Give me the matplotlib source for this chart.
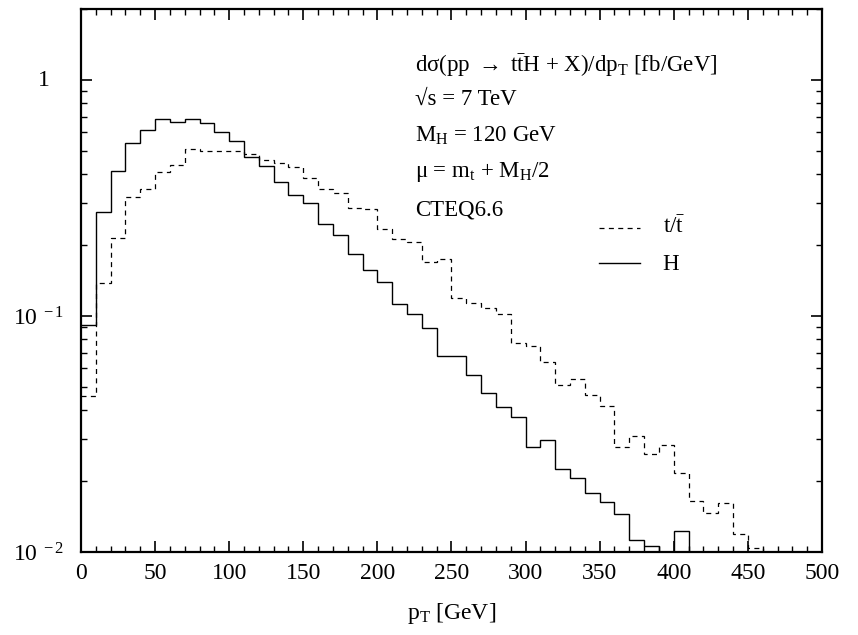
import numpy as np
import matplotlib
matplotlib.use("Agg")
import matplotlib.pyplot as plt
from matplotlib.ticker import FixedLocator, FixedFormatter, MultipleLocator, LogLocator, NullFormatter

plt.rcParams['font.family'] = ['Liberation Serif', 'DejaVu Serif']
plt.rcParams['mathtext.fontset'] = 'custom'
plt.rcParams['mathtext.rm'] = 'Liberation Serif'
plt.rcParams['mathtext.it'] = 'Liberation Serif:italic'
plt.rcParams['mathtext.bf'] = 'Liberation Serif:bold'

# bin edges [GeV], 10 GeV wide
bin_width = 10
# Higgs pT distribution [fb/GeV]
H_vals = [0.092, 0.275, 0.413, 0.542, 0.614, 0.686, 0.664, 0.681, 0.656, 0.600,
          0.550, 0.473, 0.431, 0.371, 0.326, 0.300, 0.245, 0.220, 0.184, 0.157,
          0.140, 0.112, 0.102, 0.089, 0.068, 0.068, 0.056, 0.047, 0.0413, 0.0374,
          0.0279, 0.0298, 0.0224, 0.0205, 0.0178, 0.0163, 0.0145, 0.0112, 0.0106, 0.009,
          0.0123, 0.009]
# top / antitop pT distribution [fb/GeV]
tt_vals = [0.046, 0.138, 0.215, 0.318, 0.345, 0.406, 0.436, 0.509, 0.500, 0.500,
           0.498, 0.486, 0.458, 0.444, 0.429, 0.386, 0.344, 0.331, 0.286, 0.284,
           0.234, 0.213, 0.205, 0.170, 0.174, 0.119, 0.114, 0.108, 0.102, 0.0766,
           0.0748, 0.0636, 0.0510, 0.0539, 0.0463, 0.0416, 0.0279, 0.0311, 0.0259, 0.0285,
           0.0216, 0.0164, 0.0146, 0.0161, 0.0119, 0.0104, 0.009]

H_edges = np.arange(len(H_vals) + 1) * bin_width
tt_edges = np.arange(len(tt_vals) + 1) * bin_width

info_lines = ['dσ(pp ' + r'$\rightarrow$' + ' t' + r'$\bar{\rm t}$' + 'H + X)/dp' + r'$_{\rm T}$' + ' [fb/GeV]',
              '√s = 7 TeV',
              r'M$_{\rm H}$ = 120 GeV',
              'μ = m' + r'$_{\rm t}$' + ' + M' + r'$_{\rm H}$' + '/2',
              'CTEQ6.6']

fig = plt.figure(figsize=(8.58, 6.35), dpi=100)
ax = fig.add_axes([0.0944, 0.1307, 0.8636, 0.8551])

ax.stairs(tt_vals, tt_edges, baseline=None, color='black', lw=0.9,
          linestyle=(0, (4, 3.5)))
ax.stairs(H_vals, H_edges, baseline=None, color='black', lw=1.0)

ax.set_yscale('log')
ax.set_xlim(0, 500)
ax.set_ylim(0.01, 2.0)

fs = 17
ax.xaxis.set_major_locator(MultipleLocator(50))
ax.xaxis.set_minor_locator(MultipleLocator(10))
ax.yaxis.set_major_locator(FixedLocator([0.01, 0.1, 1.0]))
ax.yaxis.set_major_formatter(FixedFormatter([r'$10^{\ -2}$', r'$10^{\ -1}$', '']))
ax.yaxis.set_minor_locator(LogLocator(base=10, subs=np.arange(2, 10)))
ax.yaxis.set_minor_formatter(NullFormatter())

ax.tick_params(which='both', direction='in', top=True, right=True, labelsize=fs)
ax.tick_params(which='major', length=8, width=1.2)
ax.tick_params(which='minor', length=4, width=1.0)
ax.tick_params(axis='x', which='major', pad=8)
ax.tick_params(axis='y', which='major', pad=12)
for s in ax.spines.values():
    s.set_linewidth(1.6)

ax.text(-0.042, 1.0, '1', transform=ax.get_yaxis_transform(), fontsize=fs,
        ha='right', va='center')

ax.set_xlabel(r'p$_{\rm T}$ [GeV]', fontsize=fs, labelpad=12)

ys = [0.8845, 0.823, 0.7556, 0.691, 0.6206]
for t, y in zip(info_lines, ys):
    ax.text(0.451, y, t, transform=ax.transAxes, fontsize=16.5, va='baseline', ha='left')

# legend
ax.plot([0.699, 0.754], [0.597, 0.597], transform=ax.transAxes, color='black',
        lw=0.9, linestyle=(0, (4, 3.5)))
ax.text(0.785, 0.587, 't/' + r'$\bar{\rm t}$', transform=ax.transAxes, fontsize=16.5,
        va='baseline')
ax.plot([0.699, 0.754], [0.532, 0.532], transform=ax.transAxes, color='black', lw=1.0)
ax.text(0.785, 0.519, 'H', transform=ax.transAxes, fontsize=16.5, va='baseline')

fig.savefig('out.png', dpi=100)
